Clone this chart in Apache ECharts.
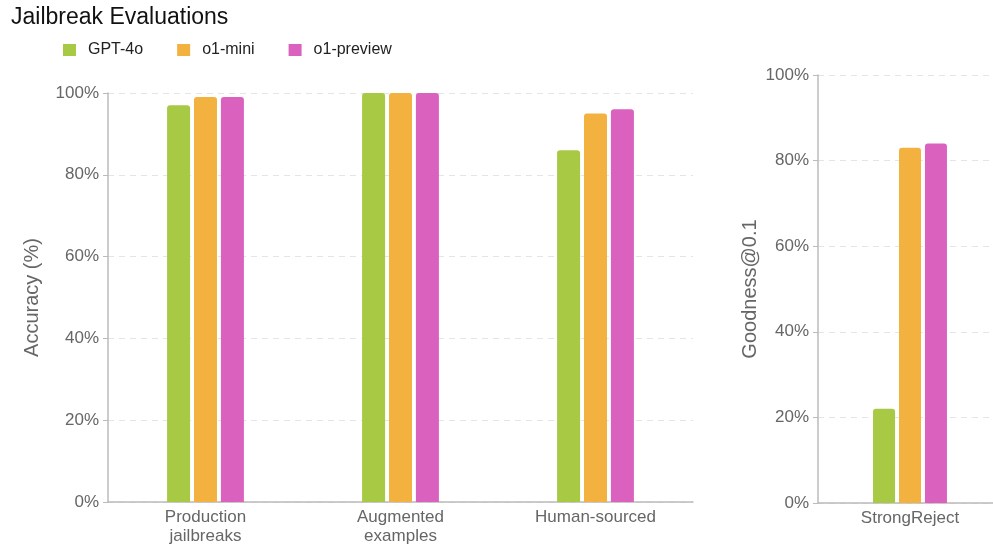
<!DOCTYPE html>
<html><head><meta charset="utf-8">
<script src="https://cdn.jsdelivr.net/npm/echarts@6/dist/echarts.min.js"></script>
<style>html,body{margin:0;padding:0;background:#fff;overflow:hidden;width:993px;height:547px}#c{width:1002px;height:547px}</style>
</head><body><div id="c"></div>
<script>
const seriesNames = ['GPT-4o', 'o1-mini', 'o1-preview'];
const colors = ['#A7C943', '#F3B13F', '#DB61BE'];
const leftCategories = ['Production\njailbreaks', 'Augmented\nexamples', 'Human-sourced'];
const leftGPT4o = [97, 100, 86];
const leftO1mini = [99, 100, 95];
const leftO1preview = [99, 100, 96];
const rightCategories = ['StrongReject'];
const rightGPT4o = [22];
const rightO1mini = [83];
const rightO1preview = [84];
const yTicks = [0, 20, 40, 60, 80, 100];

const font = 'Liberation Sans, Arial, sans-serif';
const leftData = [leftGPT4o, leftO1mini, leftO1preview];
const rightData = [rightGPT4o, rightO1mini, rightO1preview];

function yAxis(gridIndex, name, gap) {
  return {
    gridIndex, type: 'value', min: yTicks[0], max: yTicks[yTicks.length-1], interval: yTicks[1]-yTicks[0],
    name, nameLocation: 'middle', nameGap: gap,
    nameTextStyle: {fontFamily: font, fontSize: 20, color: '#666'},
    axisLine: {show: true, lineStyle: {color: '#bbb', width: 1.5}},
    axisTick: {show: true, length: 5, lineStyle: {color: '#bbb'}},
    axisLabel: {formatter: '{value}%', fontFamily: font, fontSize: 17, color: '#666', margin: 9},
    splitLine: {show: true, lineStyle: {color: '#e4e4e4', type: [6, 5]}}
  };
}
function xAxis(gridIndex, cats) {
  return {
    gridIndex, type: 'category', data: cats,
    axisLine: {show: true, lineStyle: {color: '#bbb', width: 1.5}},
    axisTick: {show: false},
    axisLabel: {fontFamily: font, fontSize: 17, color: '#666', lineHeight: 19, margin: 6}
  };
}
const series = [];
seriesNames.forEach((n, i) => {
  series.push({name: n, type: 'bar', xAxisIndex: 0, yAxisIndex: 0, data: leftData[i],
    barWidth: 23, barGap: '17%', itemStyle: {color: colors[i], borderRadius: [3,3,0,0]}});
});
seriesNames.forEach((n, i) => {
  series.push({name: n, type: 'bar', xAxisIndex: 1, yAxisIndex: 1, data: rightData[i],
    barWidth: 22, barGap: '18%', itemStyle: {color: colors[i], borderRadius: [3,3,0,0]}});
});
const chart = echarts.init(document.getElementById('c'), null, {renderer: 'canvas'});
chart.setOption({
  animation: false,
  title: {text: 'Jailbreak Evaluations', left: 6, top: 1,
    textStyle: {fontFamily: font, fontSize: 23, fontWeight: 'normal', color: '#111'}},
  legend: {data: seriesNames, left: 58, top: 37, icon: 'rect', itemWidth: 13, itemHeight: 12,
    itemGap: 34, textStyle: {fontFamily: font, fontSize: 16, color: '#222', padding: [0,0,0,7]}},
  grid: [
    {left: 108, right: 309, top: 93, bottom: 45},
    {left: 818, right: 0, top: 75, bottom: 44}
  ],
  xAxis: [xAxis(0, leftCategories), xAxis(1, rightCategories)],
  yAxis: [yAxis(0, 'Accuracy (%)', 66), yAxis(1, 'Goodness@0.1', 58)],
  series
});
</script></body></html>
